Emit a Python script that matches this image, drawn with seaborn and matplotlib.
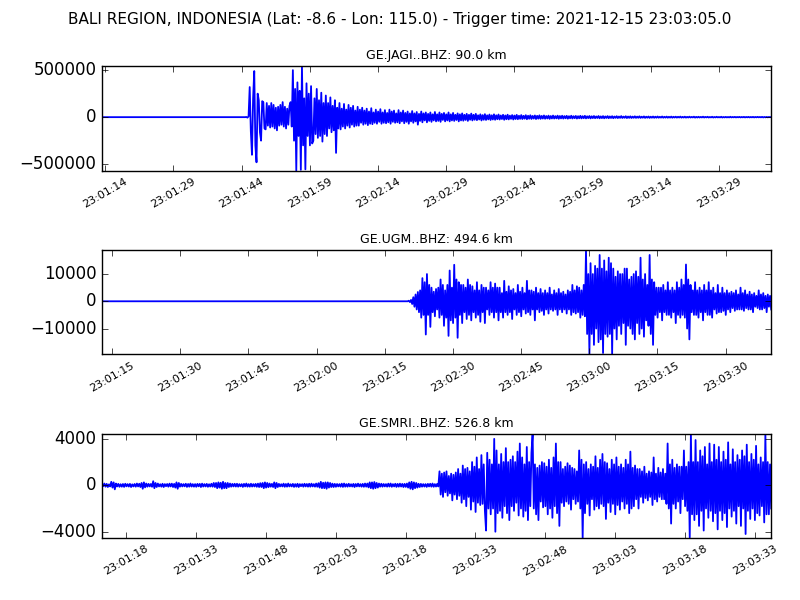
import numpy as np
import pandas as pd
import matplotlib
matplotlib.use("Agg")
import matplotlib.pyplot as plt
import matplotlib.dates as mdates
import seaborn as sns

plt.style.use("classic")

suptitle = "BALI REGION, INDONESIA (Lat: -8.6 - Lon: 115.0) - Trigger time: 2021-12-15 23:03:05.0"

stations = ["GE.JAGI..BHZ", "GE.UGM..BHZ", "GE.SMRI..BHZ"]
distances = [90.0, 494.6, 526.8]

step = 0.25  # seconds between samples

# ---- GE.JAGI (values in 1000 counts)
jagi_start = "2021-12-15 23:01:13.3"
jagi_quiet = [0] * 126
jagi_wave = [
    0, 2, -5, 8, 320, -150, -400, 200, 490, -300, -480, 250, 180, -160, -250, 170, 160, -120, -130, 150,
    -90, 120, -110, 150, -100, 130, -120, 100, -140, 110, -90, 130, -80, 160, -100, 110, -120, 90, -80, 120,
    160, -100, 500, -250, 300, -568, 370, -200, 280, -560, 544, -300, 200, -555, 360, -200, 250, -300, 330, -280,
    -250, 200, -180, 300, -220, 180, -200, 260, -260, 150, -180, 230, -200, 150, -120, 210, -160, 120, -140, 180,
    -380, 100, -120, 150, -130, 90, -100, 140, -120, 80, -90, 130, -110, 100, -80, 120, -100, 70, -90, 110,
    -90, 80, -60, 100, -80, 70, -70, 90, -85, 60, -70, 95, -75, 50, -60, 80, -70, 60, -50, 85,
    -70, 50, -60, 75, -65, 45, -55, 80, -70, 60, -50, 70, -60, 40, -55, 75, -65, 50, -45, 70,
    -65, 45, -50, 60, -70, 40, -45, 65, -60, 40, -45, 55, -80, 35, -40, 60, -55, 40, -35, 50,
    -55, 35, -40, 50, -50, 30, -35, 55, -45, 30, -40, 50, -50, 35, -30, 45, -45, 30, -35, 50,
    -45, 30, -35, 45, -40, 25, -30, 40, -45, 30, -35, 40, -38, 25, -30, 35, -40, 25, -28, 38,
    -35, 25, -28, 35, -32, 20, -25, 30, -35, 22, -28, 32, -30, 20, -24, 28, -30, 20, -25, 30,
    -28, 20, -22, 28, -25, 18, -20, 25, -28, 18, -22, 26, -24, 16, -18, 22, -25, 17, -20, 24,
    -22, 15, -18, 22, -20, 14, -16, 21, -22, 15, -17, 20, -19, 13, -15, 18, -20, 14, -16, 19,
    -18, 13, -15, 18, -17, 12, -14, 16, -18, 12, -14, 17, -15, 11, -13, 16, -17, 12, -13, 15,
    -15, 11, -12, 14, -16, 10, -12, 15, -14, 10, -11, 13, -15, 10, -12, 14, -13, 10, -11, 14,
    -13, 9, -10, 12, -13, 9, -10, 12, -11, 8, -9, 12, -12, 8, -10, 11, -12, 8, -9, 11,
    -11, 8, -9, 10, -11, 7, -8, 10, -10, 7, -8, 11, -9, 6, -7, 10, -10, 7, -8, 9,
    -9, 6, -7, 9, -8, 6, -7, 9, -8, 5, -6, 8, -8, 5, -6, 7, -8, 5, -6, 7,
    -7, 5, -6, 7, -6, 4, -5, 7, -6, 4, -5, 6, -6, 4, -5, 6, -6, 4, -4, 5,
    -5, 4, -4, 6, -5, 3, -4, 5, -5, 3, -4, 5, -4, 3, -3, 5, -5, 3, -4, 4,
    -4, 3, -3, 5, -4, 3, -3, 4, -4, 2, -3, 4, -4, 2, -3, 4, -3, 2, -3, 4,
    -4, 2, -3, 3, -3, 2, -3, 4, -3, 2, -2, 3, -3, 2, -2, 3, -3, 2, -2, 3,
    -3, 2, -2, 3, -3, 2, -2, 3, -3, 2, -2, 3, -2, 2, -2, 3, -3, 2, -2, 2, -2, 2, -1, 2,
]
jagi_unit = 1000
jagi_ticks = "2021-12-15 23:01:14"
jagi_yticks = [-500000, 0, 500000]

# ---- GE.UGM (values in 1000 counts)
ugm_start = "2021-12-15 23:01:12.8"
ugm_quiet = [0] * 270
ugm_wave = [
    0.2, -0.3, 0.5, -1, 1.5, -2, 2.5, -3, 3.4, -4, 4, -6, 8.5, -5, 7, -12.2, 10, -5, 6, -9.4,
    5, -4, 3.5, -5.5, 4.5, -3, 5, -6, 8, -5, 6, -9, 4, -6, 6, -12.7, 11.3, -7, 5, -8,
    13.4, -6, 8, -13.4, 7, -5, 6, -8, 6, -4, 5, -6.5, 8, -5, 6, -7, 5.5, -4, 4, -6,
    7, -5, 4, -7.5, 6, -4, 5, -8, 5, -3, 4, -5, 7, -4, 5, -6, 6.5, -4, 5, -7,
    5, -4, 3, -6, 7.5, -4, 3.5, -5, 5.5, -4, 4, -6.5, 4.5, -3, 3, -5, 6, -4, 3.5, -5.5,
    5, -3, 3, -4.5, 7.5, -4, 4, -5, 4, -3, 3.5, -7, 5, -3, 3, -4, 4.5, -3.5, 3, -5,
    4, -3, 3, -4.5, 5, -3, 2.5, -3.5, 4, -3, 3, -5, 4.5, -3, 3, -4, 3.5, -3, 2.5, -4.5,
    4, -3, 3.5, -5, 6, -4, 4, -4.5, 5.5, -4, 5, -6, 4, -5, 6, -5.5, 18.9, -12, 10, -19.5,
    14, -12, 10, -16, 13, -10, 12, -15, 17, -14, 12, -19, 15, -12, 11, -13, 16, -12, 14, -19.3,
    12, -10, 9, -14, 11, -9, 10, -12, 10, -8, 12, -16, 12, -9, 8, -10, 9, -12, 10, -14,
    11, -8, 9, -12, 16, -10, 8, -13, 10, -7, 6, -9, 17, -12, 8, -16, 7, -5, 5, -6,
    5, -4, 5, -7, 6, -4, 4, -5, 7, -5, 4, -6, 5, -4, 4, -8, 7, -5, 5, -6,
    8, -5, 6, -6, 13.5, -10, 8, -14, 6, -4, 4, -5, 7, -5, 4, -6, 5, -4, 4, -7,
    6, -4, 4, -5, 7, -5, 4, -6, 5, -3, 3, -4.5, 6, -4, 3, -4, 5, -3.5, 3, -5,
    4, -3, 3, -4, 3.5, -2.5, 3, -3.5, 4, -3, 2.5, -3, 5, -3, 3, -3.5, 4, -2.5, 2.5, -3,
    3.5, -3, 2.5, -4, 3, -2, 2, -2.5, 4, -3, 2.5, -3, 3, -2.5, 2, -4, 2.5, -2, 2, -3,
]
ugm_unit = 1000
ugm_ticks = "2021-12-15 23:01:15"
ugm_yticks = [-10000, 0, 10000]

# ---- GE.SMRI (values in 100 counts)
smri_start = "2021-12-15 23:01:12.8"
smri_quiet = [
    1, -0.8, 1.5, -1.2, 1.2, -1.5, 0.8, -1, 3, -2, 2.5, -3.5, 1.5, -1, 1.2, -1.3, 0.9, -1.2, 1.1, -1.4,
    1.3, -0.9, 1, -1.1, 1.2, -1.5, 0.8, -1, 1.1, -1.2, 1.5, -1, 1.3, -1.5, 2, -3, 2.5, -1.8, 1.5, -1.2,
    1.2, -1, 1.1, -1.3, 3.5, -2.5, 2, -1.5, 1.5, -1, 0.9, -1.2, 1.3, -1.5, 1, -0.8, 1.1, -1.2, 1.4, -1,
    1.4, -1.5, 1.2, -2, 2.5, -3, 2, -1.2, 1.2, -1, 1, -0.9, 1.3, -1.4, 1.1, -1.2, 1.5, -1.1, 1, -1.2,
    1, -1.3, 1.2, -0.9, 1.2, -1.5, 1.4, -1.1, 1, -1, 1.2, -1.3, 0.9, -1.1, 1.3, -1.2, 2, -1.5, 2, -2.5,
    2.5, -2, 2.2, -3, 3, -2.5, 2, -2.5, 2, -1.5, 1.5, -1.2, 1.2, -1, 1.3, -1.1, 1.3, -1.2, 1, -0.9,
    1, -1.4, 1.2, -1, 1.5, -1.2, 1, -1.2, 1.3, -1.1, 1, -1, 1.2, -1.3, 1.4, -1.5, 1.8, -1.5, 2, -2.5,
    2.5, -2, 2, -1.6, 1.5, -1.2, 1.2, -1.5, 2.5, -2.5, 2, -1.5, 1.2, -1, 0.9, -1, 1.4, -1.3, 1.1, -1.2,
    1.5, -1, 0.9, -1, 1.2, -1.4, 1, -1.2, 1.3, -1.5, 1, -0.8, 1, -1.2, 1.3, -1, 1.1, -1.2, 1.3, -1.2,
    1.4, -1, 1, -1.2, 1.5, -1.3, 1.8, -2, 3, -2.5, 2.2, -2.5, 2.5, -3, 2.5, -2, 2, -1.5, 1.4, -1.5,
    1.2, -1.3, 1.1, -1, 1, -1.2, 1.4, -1.4, 1.5, -1.2, 1, -1.2, 1.3, -1, 0.9, -1.1, 1.2, -1.5, 1.1, -1,
    1.4, -1, 1, -1.2, 1.2, -1.3, 1.5, -1.2, 1.5, -1.8, 2.5, -2.5, 2.5, -3, 2.8, -2.5, 2, -2, 1.5, -1.2,
    1.3, -1.2, 1.1, -1, 1, -1.2, 1.4, -1.1, 1.5, -1.3, 1, -1, 1.3, -1.4, 1.2, -1.2, 1.4, -1.1, 1.2, -1.5,
    1.2, -1.4, 1.5, -2, 2.5, -3, 3, -3.5, 2.5, -2.5, 2, -2, 1.3, -1.5, 1.2, -1.2, 1, -1.1, 1, -1.4,
    1.2, -1, 1.3, -1.2, 1.5, -1.3, 1, -1.1, 1.2, -1,
]
smri_wave = [
    12, -8, 10, -10, 11, -6, 12, -9, 8, -7, 10, -13, 9, -8, 11, -12, 14, -9, 10, -15,
    17, -12, 14, -18, 15, -10, 12, -21, 20, -14, 16, -23, 24, -15, 14, -17, 26, -16, 18, -22,
    -39, 28, -20, 22, -25, 18, -20, 40, -40, 30, -24, 18, -22, 27, -28, 20, -18, 32, -24, 20,
    -30, 22, -18, 25, -22, 20, -15, 29, -26, 36, -20, 24, -27, 18, -22, 33, -30, 20, -18, 28,
    44.5, -20, 18, -25, 15, -30, 17, -14, 20, -19, 19, -18, 16, -25, 22, -20, 15, -28, 24, -18,
    36, -24, 20, -35, 20, -15, 14, -18, 16, -14, 19, -16, 17, -21, 15, -12, 14, -16, 12, -14,
    30, -20, 22, -45.6, 18, -24, 20, -16, 14, -26, 18, -12, 16, -21, 25, -18, 15, -20, 22, -16,
    27, -18, 20, -29, 19, -15, 14, -23, 22, -16, 18, -25, 24, -17, 16, -21, 18, -14, 15, -20,
    22, -16, 18, -24, 29, -20, 15, -18, 17, -12, 14, -20, 14, -10, 12, -15, 16, -11, 10, -13,
    12, -10, 11, -17, 24, -12, 10, -14, 15, -10, 11, -12, 14, -12, 10, -16, 36, -20, 18, -33,
    22, -16, 15, -20, 18, -14, 16, -24, 16, -12, 30, -18, 16, -22, 20, -45, 44.5, -25, 20, -30,
    39, -25, 20, -35, 30, -22, 25, -39, 33, -20, 18, -28, 36, -22, 20, -31, 35, -24, 22, -38,
    33, -22, 20, -30, 29, -24, 22, -36, 37, -20, 18, -27, 31, -22, 20, -33, 26, -18, 22, -35,
    30, -20, 25, -42, 35, -22, 20, -29, 27, -20, 22, -30, 34, -24, 18, -26, 24, -18, 20, -32,
    44.5, -25, 20, -25, 18, -20,
]
smri_unit = 100
smri_ticks = "2021-12-15 23:01:18"
smri_yticks = [-4000, 0, 4000]


def make_trace(start, quiet, wave, unit):
    counts = np.array(quiet + wave, dtype=float) * unit
    t = pd.Timestamp(start) + pd.to_timedelta(np.arange(len(counts)) * step, unit="s")
    return pd.DataFrame({"time": t, "counts": counts})


traces = [
    make_trace(jagi_start, jagi_quiet, jagi_wave, jagi_unit),
    make_trace(ugm_start, ugm_quiet, ugm_wave, ugm_unit),
    make_trace(smri_start, smri_quiet, smri_wave, smri_unit),
]
tick_starts = [jagi_ticks, ugm_ticks, smri_ticks]
yticks = [jagi_yticks, ugm_yticks, smri_yticks]

fig, axes = plt.subplots(3, 1, figsize=(8, 6))
fig.subplots_adjust(left=0.1275, right=0.964, top=0.89, bottom=0.103, hspace=0.758)

for ax, df, sta, dist, t0, yt in zip(axes, traces, stations, distances, tick_starts, yticks):
    sns.lineplot(data=df, x="time", y="counts", ax=ax, color="b", lw=1.3,
                 estimator=None, sort=False)
    ax.set_xlim(df["time"].iloc[0], df["time"].iloc[-1])
    ax.set_ylim(df["counts"].min(), df["counts"].max())
    ax.set_xticks(pd.date_range(t0, periods=10, freq="15s"))
    ax.xaxis.set_major_formatter(mdates.DateFormatter("%H:%M:%S"))
    ax.set_yticks(yt)
    ax.set_xlabel("")
    ax.set_ylabel("")
    ax.set_title(f"{sta}: {dist} km", fontsize=9)
    plt.setp(ax.get_xticklabels(), rotation=30, fontsize=8)

fig.suptitle(suptitle, fontsize=11)
fig.savefig("out.png", dpi=100, facecolor="white")
